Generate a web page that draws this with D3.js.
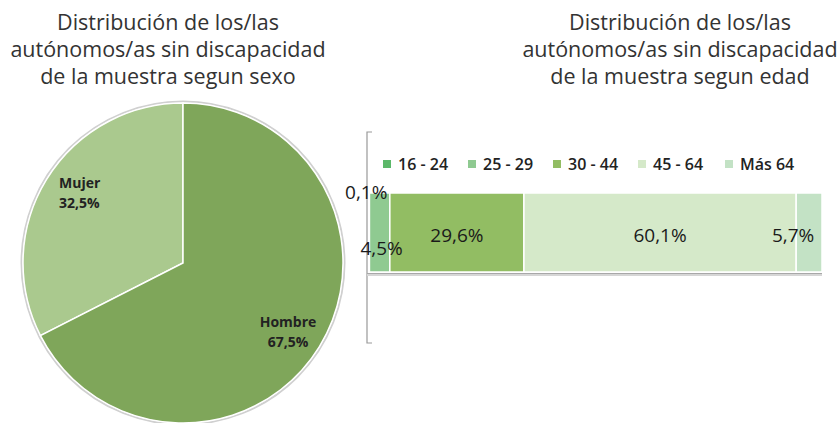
<!DOCTYPE html>
<html>
<head>
<meta charset="utf-8">
<script src="https://cdn.jsdelivr.net/npm/d3@7"></script>
<style>
  body { margin: 0; background: #fff; }
  svg text { font-family: "Open Sans", "Noto Sans", sans-serif; }
</style>
</head>
<body>
<svg id="chart" width="840" height="423"></svg>
<script>
"use strict"

// sexo
var sexLabels = ["Mujer", "Hombre"];
var sexValues = [32.5, 67.5];
var sexColors = ["#aac98e", "#7fa65a"];

// edad
var ageLabels = ["16 - 24", "25 - 29", "30 - 44", "45 - 64", "Más 64"];
var ageValues = [0.1, 4.5, 29.6, 60.1, 5.7];
var ageColors = ["#5cb86a", "#8fca91", "#92bd63", "#d5e9c9", "#c3e2c5"];
var ageText = ["0,1%", "4,5%", "29,6%", "60,1%", "5,7%"];

var titleLeft = ["Distribución de los/las", "autónomos/as sin discapacidad", "de la muestra segun sexo"];
var titleRight = ["Distribución de los/las", "autónomos/as sin discapacidad", "de la muestra segun edad"];

var svg = d3.select("#chart");

function drawTitle(lines_, cx_) {
    svg.append("g").selectAll("text").data(lines_).enter().append("text")
        .attr("x", cx_)
        .attr("y", function(d, i) { return 30 + i * 27; })
        .attr("text-anchor", "middle")
        .attr("font-size", 21.5)
        .attr("fill", "#333")
        .text(function(d) { return d; });
}

drawTitle(titleLeft, 168);
drawTitle(titleRight, 680);

// ---- pie ----
var cx = 183, cy = 263, R = 160;

var pie = d3.pie().sort(null).value(function(d) { return d; })
    .startAngle(-2 * Math.PI * sexValues[0] / 100)
    .endAngle(2 * Math.PI - 2 * Math.PI * sexValues[0] / 100);

var arc = d3.arc().innerRadius(0).outerRadius(R);

var pg = svg.append("g").attr("transform", "translate(" + cx + "," + cy + ")");

pg.append("circle").attr("r", R + 1.5).attr("fill", "none")
    .attr("stroke", "#d0d0d0").attr("stroke-width", 2);

pg.selectAll("path").data(pie(sexValues)).enter().append("path")
    .attr("d", arc)
    .attr("fill", function(d, i) { return sexColors[i]; })
    .attr("stroke", "#fff")
    .attr("stroke-width", 1.5);

var pieLab = [
    {x: 59, y: 188, anchor: "start"},
    {x: 288, y: 327, anchor: "middle"}
];
pieLab.forEach(function(p, i) {
    var t = svg.append("text")
        .attr("x", p.x).attr("y", p.y)
        .attr("text-anchor", p.anchor)
        .attr("font-size", 14).attr("font-weight", 700)
        .attr("fill", "#222");
    t.append("tspan").attr("x", p.x).text(sexLabels[i]);
    t.append("tspan").attr("x", p.x).attr("dy", 20)
        .text(String(sexValues[i].toFixed(1)).replace(".", ",") + "%");
});

// ---- stacked bar ----
var x = d3.scaleLinear().domain([0, 100]).range([369, 822]);
var y = d3.scaleBand().domain(["edad"]).range([132, 343]).paddingInner(0).paddingOuter(0);

var stack = [];
var acc = 0;
ageValues.forEach(function(v, i) { stack.push({i: i, x0: acc, x1: acc + v}); acc += v; });

var barTop = 193, barBot = 272;

// axis (vertical) with end ticks
var ax = svg.append("g").attr("stroke", "#999").attr("stroke-width", 1.2).attr("fill", "none");
ax.append("path").attr("d", "M372," + y.range()[0] + "H367V" + y.range()[1] + "H372");

// horizontal baseline
svg.append("line").attr("x1", 367).attr("x2", x.range()[1])
    .attr("y1", 275).attr("y2", 275)
    .attr("stroke", "#d6d6d6").attr("stroke-width", 2);
svg.append("line").attr("x1", 367).attr("x2", x.range()[1])
    .attr("y1", 273.5).attr("y2", 273.5)
    .attr("stroke", "#a8a8a8").attr("stroke-width", 1.2);

svg.append("g").selectAll("rect").data(stack).enter().append("rect")
    .attr("x", function(d) { return x(d.x0); })
    .attr("width", function(d) { return Math.max(0.5, x(d.x1) - x(d.x0)); })
    .attr("y", barTop)
    .attr("height", barBot - barTop)
    .attr("fill", function(d) { return ageColors[d.i]; })
    .attr("stroke", "#fff")
    .attr("stroke-width", 1.5);

// bar labels (offsets from segment centre, as placed in the original)
var labOff = [{dx: -3, y: 199}, {dx: 2, y: 255}, {dx: 0, y: 242}, {dx: 0, y: 242}, {dx: -16, y: 242}];
svg.append("g").selectAll("text").data(stack).enter().append("text")
    .attr("x", function(d) { return (x(d.x0) + x(d.x1)) / 2 + labOff[d.i].dx; })
    .attr("y", function(d) { return labOff[d.i].y; })
    .attr("text-anchor", "middle")
    .attr("font-size", 19)
    .attr("fill", "#1a1a1a")
    .text(function(d) { return ageText[d.i]; });

// legend
var legX = [383, 468, 553, 638, 725];
var lg = svg.append("g").selectAll("g").data(ageLabels).enter().append("g")
    .attr("transform", function(d, i) { return "translate(" + legX[i] + ",160)"; });
lg.append("rect").attr("width", 8).attr("height", 8)
    .attr("fill", function(d, i) { return ageColors[i]; });
lg.append("text").attr("x", 15).attr("y", 9.5)
    .attr("font-size", 16).attr("font-weight", 600)
    .attr("fill", "#222")
    .text(function(d) { return d; });
</script>
</body>
</html>
